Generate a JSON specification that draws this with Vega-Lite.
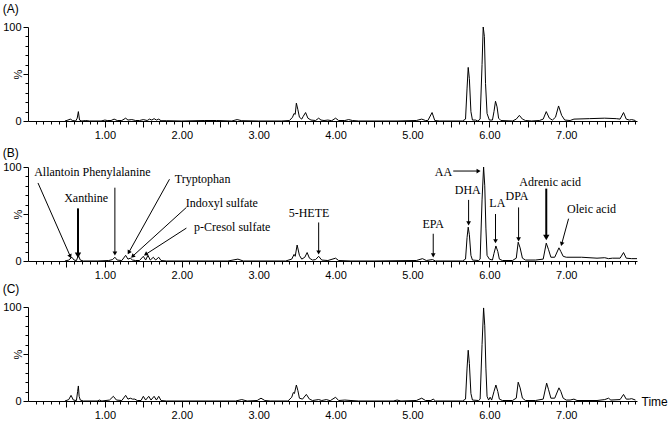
{
  "$schema": "https://vega.github.io/schema/vega-lite/v6.json",
  "background": "white",
  "padding": {"left": 2, "top": 3, "right": 0, "bottom": 2},
  "bounds": "flush",
  "spacing": 46,
  "config": {
    "view": {"stroke": null},
    "axis": {"grid": false, "domainColor": "black", "tickColor": "black", "labelColor": "black", "labelFont": "Liberation Sans", "labelFontSize": 11, "titleFont": "Liberation Sans", "titleFontWeight": "normal", "titleFontSize": 11, "titleColor": "black", "labelPadding": 2, "labelOverlap": false, "labelFlush": false},
    "title": {"anchor": "start", "frame": "bounds", "font": "Liberation Sans", "fontSize": 12, "fontWeight": "normal", "color": "black", "offset": 5},
    "line": {"color": "black", "strokeWidth": 1}
  },
  "datasets": {
    "trace": [
      {"p":"A","t":0.48,"v":0},{"p":"A","t":0.52,"v":1},{"p":"A","t":0.55,"v":2},{"p":"A","t":0.58,"v":0.5},{"p":"A","t":0.62,"v":0},{"p":"A","t":0.64,"v":3},{"p":"A","t":0.655,"v":10},{"p":"A","t":0.67,"v":1},{"p":"A","t":0.7,"v":0},{"p":"A","t":0.75,"v":0.5},{"p":"A","t":0.8,"v":0},{"p":"A","t":0.95,"v":0},{"p":"A","t":1.0,"v":1},{"p":"A","t":1.03,"v":0.5},{"p":"A","t":1.08,"v":0.5},{"p":"A","t":1.12,"v":2},{"p":"A","t":1.16,"v":0.5},{"p":"A","t":1.22,"v":0.5},{"p":"A","t":1.27,"v":3},{"p":"A","t":1.3,"v":1},{"p":"A","t":1.35,"v":1.5},{"p":"A","t":1.4,"v":0.5},{"p":"A","t":1.45,"v":0.5},{"p":"A","t":1.5,"v":1.5},{"p":"A","t":1.55,"v":0.5},{"p":"A","t":1.58,"v":2},{"p":"A","t":1.61,"v":1},{"p":"A","t":1.64,"v":2.5},{"p":"A","t":1.67,"v":1},{"p":"A","t":1.7,"v":2},{"p":"A","t":1.73,"v":0.3},{"p":"A","t":1.8,"v":0.3},{"p":"A","t":2.0,"v":0},{"p":"A","t":2.3,"v":0.5},{"p":"A","t":2.45,"v":0.5},{"p":"A","t":2.65,"v":0},{"p":"A","t":2.72,"v":1.5},{"p":"A","t":2.78,"v":0.3},{"p":"A","t":3.0,"v":0},{"p":"A","t":3.3,"v":0},{"p":"A","t":3.4,"v":0.5},{"p":"A","t":3.44,"v":4},{"p":"A","t":3.46,"v":8},{"p":"A","t":3.475,"v":7},{"p":"A","t":3.49,"v":19},{"p":"A","t":3.51,"v":12},{"p":"A","t":3.53,"v":4},{"p":"A","t":3.56,"v":2},{"p":"A","t":3.58,"v":5},{"p":"A","t":3.61,"v":9},{"p":"A","t":3.64,"v":3},{"p":"A","t":3.68,"v":1},{"p":"A","t":3.74,"v":0.5},{"p":"A","t":3.78,"v":3},{"p":"A","t":3.81,"v":1},{"p":"A","t":3.85,"v":0.5},{"p":"A","t":3.9,"v":1},{"p":"A","t":3.95,"v":0.3},{"p":"A","t":4.0,"v":3},{"p":"A","t":4.04,"v":0.5},{"p":"A","t":4.12,"v":0.5},{"p":"A","t":4.17,"v":1.5},{"p":"A","t":4.22,"v":0.5},{"p":"A","t":4.3,"v":0},{"p":"A","t":4.8,"v":0},{"p":"A","t":5.05,"v":0.5},{"p":"A","t":5.12,"v":2},{"p":"A","t":5.17,"v":0.5},{"p":"A","t":5.2,"v":0.5},{"p":"A","t":5.255,"v":9},{"p":"A","t":5.29,"v":0.5},{"p":"A","t":5.35,"v":0},{"p":"A","t":5.65,"v":0},{"p":"A","t":5.69,"v":2},{"p":"A","t":5.71,"v":35},{"p":"A","t":5.725,"v":57},{"p":"A","t":5.74,"v":45},{"p":"A","t":5.76,"v":10},{"p":"A","t":5.78,"v":1},{"p":"A","t":5.82,"v":1},{"p":"A","t":5.85,"v":0},{"p":"A","t":5.88,"v":2},{"p":"A","t":5.905,"v":60},{"p":"A","t":5.92,"v":100},{"p":"A","t":5.935,"v":90},{"p":"A","t":5.95,"v":40},{"p":"A","t":5.97,"v":8},{"p":"A","t":6.0,"v":1},{"p":"A","t":6.04,"v":1},{"p":"A","t":6.06,"v":10},{"p":"A","t":6.08,"v":21},{"p":"A","t":6.1,"v":15},{"p":"A","t":6.12,"v":3},{"p":"A","t":6.15,"v":0.5},{"p":"A","t":6.3,"v":0},{"p":"A","t":6.35,"v":2},{"p":"A","t":6.39,"v":6},{"p":"A","t":6.43,"v":2},{"p":"A","t":6.47,"v":0.5},{"p":"A","t":6.55,"v":0},{"p":"A","t":6.65,"v":0.5},{"p":"A","t":6.7,"v":2},{"p":"A","t":6.74,"v":10},{"p":"A","t":6.78,"v":3},{"p":"A","t":6.82,"v":1},{"p":"A","t":6.86,"v":4},{"p":"A","t":6.9,"v":16},{"p":"A","t":6.94,"v":6},{"p":"A","t":6.98,"v":1},{"p":"A","t":7.05,"v":0.5},{"p":"A","t":7.1,"v":2},{"p":"A","t":7.3,"v":2.5},{"p":"A","t":7.5,"v":3},{"p":"A","t":7.65,"v":2.5},{"p":"A","t":7.7,"v":2},{"p":"A","t":7.745,"v":9},{"p":"A","t":7.78,"v":2},{"p":"A","t":7.82,"v":1},{"p":"A","t":7.85,"v":1.5},{"p":"A","t":7.9,"v":0.5},
      {"p":"B","t":0.48,"v":0},{"p":"B","t":0.53,"v":1},{"p":"B","t":0.57,"v":4},{"p":"B","t":0.6,"v":1},{"p":"B","t":0.63,"v":0.5},{"p":"B","t":0.655,"v":6},{"p":"B","t":0.68,"v":1},{"p":"B","t":0.72,"v":0},{"p":"B","t":0.9,"v":0},{"p":"B","t":1.05,"v":0.5},{"p":"B","t":1.1,"v":1.5},{"p":"B","t":1.13,"v":4},{"p":"B","t":1.16,"v":1},{"p":"B","t":1.22,"v":0.5},{"p":"B","t":1.27,"v":6},{"p":"B","t":1.3,"v":2},{"p":"B","t":1.33,"v":3},{"p":"B","t":1.36,"v":1},{"p":"B","t":1.4,"v":0.5},{"p":"B","t":1.45,"v":0.5},{"p":"B","t":1.5,"v":5},{"p":"B","t":1.53,"v":1},{"p":"B","t":1.56,"v":6},{"p":"B","t":1.59,"v":1},{"p":"B","t":1.63,"v":4},{"p":"B","t":1.66,"v":1},{"p":"B","t":1.7,"v":4},{"p":"B","t":1.73,"v":0.5},{"p":"B","t":1.8,"v":0},{"p":"B","t":2.6,"v":0},{"p":"B","t":2.73,"v":2},{"p":"B","t":2.8,"v":0},{"p":"B","t":3.35,"v":0},{"p":"B","t":3.43,"v":2},{"p":"B","t":3.46,"v":7},{"p":"B","t":3.475,"v":5},{"p":"B","t":3.5,"v":17},{"p":"B","t":3.53,"v":6},{"p":"B","t":3.56,"v":2},{"p":"B","t":3.6,"v":4},{"p":"B","t":3.63,"v":9},{"p":"B","t":3.66,"v":3},{"p":"B","t":3.7,"v":1},{"p":"B","t":3.74,"v":1.5},{"p":"B","t":3.78,"v":5},{"p":"B","t":3.82,"v":1},{"p":"B","t":3.9,"v":0.5},{"p":"B","t":4.0,"v":3},{"p":"B","t":4.04,"v":0.5},{"p":"B","t":4.2,"v":0},{"p":"B","t":4.5,"v":0},{"p":"B","t":5.05,"v":0.5},{"p":"B","t":5.13,"v":2.5},{"p":"B","t":5.18,"v":0.5},{"p":"B","t":5.26,"v":1.5},{"p":"B","t":5.3,"v":0},{"p":"B","t":5.65,"v":0},{"p":"B","t":5.69,"v":2},{"p":"B","t":5.71,"v":25},{"p":"B","t":5.725,"v":36},{"p":"B","t":5.74,"v":28},{"p":"B","t":5.76,"v":6},{"p":"B","t":5.78,"v":1},{"p":"B","t":5.86,"v":0.5},{"p":"B","t":5.88,"v":2},{"p":"B","t":5.905,"v":65},{"p":"B","t":5.925,"v":100},{"p":"B","t":5.94,"v":80},{"p":"B","t":5.955,"v":35},{"p":"B","t":5.97,"v":6},{"p":"B","t":6.0,"v":2},{"p":"B","t":6.04,"v":1},{"p":"B","t":6.06,"v":8},{"p":"B","t":6.085,"v":16},{"p":"B","t":6.11,"v":10},{"p":"B","t":6.13,"v":2},{"p":"B","t":6.17,"v":0.5},{"p":"B","t":6.3,"v":0.5},{"p":"B","t":6.35,"v":3},{"p":"B","t":6.375,"v":20},{"p":"B","t":6.4,"v":14},{"p":"B","t":6.43,"v":3},{"p":"B","t":6.47,"v":1},{"p":"B","t":6.6,"v":1},{"p":"B","t":6.7,"v":2},{"p":"B","t":6.74,"v":19},{"p":"B","t":6.77,"v":12},{"p":"B","t":6.8,"v":4},{"p":"B","t":6.85,"v":4},{"p":"B","t":6.905,"v":14},{"p":"B","t":6.93,"v":10},{"p":"B","t":6.96,"v":5},{"p":"B","t":7.0,"v":4},{"p":"B","t":7.2,"v":4},{"p":"B","t":7.4,"v":3},{"p":"B","t":7.5,"v":3.5},{"p":"B","t":7.55,"v":2.5},{"p":"B","t":7.6,"v":3},{"p":"B","t":7.7,"v":3},{"p":"B","t":7.745,"v":9},{"p":"B","t":7.78,"v":3},{"p":"B","t":7.85,"v":2.5},{"p":"B","t":7.92,"v":2.5},
      {"p":"C","t":0.48,"v":0},{"p":"C","t":0.53,"v":1.5},{"p":"C","t":0.56,"v":6},{"p":"C","t":0.59,"v":1},{"p":"C","t":0.63,"v":0.5},{"p":"C","t":0.645,"v":10},{"p":"C","t":0.655,"v":16},{"p":"C","t":0.665,"v":5},{"p":"C","t":0.68,"v":1},{"p":"C","t":0.72,"v":0},{"p":"C","t":0.9,"v":0},{"p":"C","t":0.93,"v":1},{"p":"C","t":0.96,"v":0},{"p":"C","t":1.06,"v":1},{"p":"C","t":1.11,"v":5},{"p":"C","t":1.15,"v":1},{"p":"C","t":1.22,"v":0.5},{"p":"C","t":1.27,"v":6},{"p":"C","t":1.3,"v":2},{"p":"C","t":1.33,"v":3},{"p":"C","t":1.36,"v":2},{"p":"C","t":1.39,"v":2},{"p":"C","t":1.42,"v":0.5},{"p":"C","t":1.47,"v":0.5},{"p":"C","t":1.5,"v":5},{"p":"C","t":1.53,"v":1},{"p":"C","t":1.57,"v":5},{"p":"C","t":1.6,"v":1},{"p":"C","t":1.64,"v":5},{"p":"C","t":1.67,"v":1},{"p":"C","t":1.7,"v":5},{"p":"C","t":1.73,"v":0.5},{"p":"C","t":1.8,"v":0},{"p":"C","t":2.7,"v":0},{"p":"C","t":2.78,"v":1.5},{"p":"C","t":2.85,"v":0},{"p":"C","t":2.98,"v":0.5},{"p":"C","t":3.03,"v":3},{"p":"C","t":3.08,"v":0.5},{"p":"C","t":3.15,"v":0},{"p":"C","t":3.38,"v":0},{"p":"C","t":3.43,"v":4},{"p":"C","t":3.45,"v":9},{"p":"C","t":3.465,"v":8},{"p":"C","t":3.49,"v":17},{"p":"C","t":3.51,"v":11},{"p":"C","t":3.53,"v":3},{"p":"C","t":3.57,"v":2},{"p":"C","t":3.62,"v":7},{"p":"C","t":3.66,"v":2},{"p":"C","t":3.7,"v":0.5},{"p":"C","t":3.78,"v":1.5},{"p":"C","t":3.82,"v":0.5},{"p":"C","t":3.88,"v":1.5},{"p":"C","t":3.93,"v":0.3},{"p":"C","t":4.0,"v":4},{"p":"C","t":4.04,"v":0.5},{"p":"C","t":4.12,"v":1},{"p":"C","t":4.2,"v":0.5},{"p":"C","t":4.3,"v":0},{"p":"C","t":4.75,"v":0},{"p":"C","t":4.8,"v":1},{"p":"C","t":4.85,"v":0},{"p":"C","t":5.05,"v":0.5},{"p":"C","t":5.12,"v":3},{"p":"C","t":5.17,"v":0.5},{"p":"C","t":5.24,"v":0.5},{"p":"C","t":5.27,"v":2},{"p":"C","t":5.3,"v":0},{"p":"C","t":5.65,"v":0},{"p":"C","t":5.69,"v":2},{"p":"C","t":5.71,"v":35},{"p":"C","t":5.725,"v":54},{"p":"C","t":5.74,"v":40},{"p":"C","t":5.76,"v":8},{"p":"C","t":5.78,"v":1},{"p":"C","t":5.86,"v":0.5},{"p":"C","t":5.88,"v":2},{"p":"C","t":5.905,"v":60},{"p":"C","t":5.925,"v":99},{"p":"C","t":5.94,"v":80},{"p":"C","t":5.955,"v":35},{"p":"C","t":5.97,"v":5},{"p":"C","t":5.99,"v":1},{"p":"C","t":6.01,"v":4},{"p":"C","t":6.03,"v":1},{"p":"C","t":6.06,"v":10},{"p":"C","t":6.085,"v":17},{"p":"C","t":6.11,"v":10},{"p":"C","t":6.13,"v":2},{"p":"C","t":6.17,"v":0.5},{"p":"C","t":6.3,"v":0.5},{"p":"C","t":6.35,"v":3},{"p":"C","t":6.375,"v":20},{"p":"C","t":6.4,"v":14},{"p":"C","t":6.43,"v":3},{"p":"C","t":6.47,"v":0.5},{"p":"C","t":6.6,"v":0.5},{"p":"C","t":6.7,"v":2},{"p":"C","t":6.745,"v":19},{"p":"C","t":6.77,"v":12},{"p":"C","t":6.8,"v":3},{"p":"C","t":6.85,"v":3},{"p":"C","t":6.905,"v":14},{"p":"C","t":6.93,"v":10},{"p":"C","t":6.96,"v":3},{"p":"C","t":7.0,"v":1},{"p":"C","t":7.05,"v":1},{"p":"C","t":7.1,"v":2},{"p":"C","t":7.14,"v":0.5},{"p":"C","t":7.4,"v":0.5},{"p":"C","t":7.5,"v":1.5},{"p":"C","t":7.55,"v":3},{"p":"C","t":7.58,"v":1},{"p":"C","t":7.7,"v":1.5},{"p":"C","t":7.745,"v":7},{"p":"C","t":7.78,"v":2},{"p":"C","t":7.82,"v":2},{"p":"C","t":7.85,"v":2.5},{"p":"C","t":7.9,"v":1}
    ],
    "ann": [
      {"name":"Allantoin","tx":0.08,"ty":94.7,"x1":0.13,"y1":83,"x2":0.55,"y2":5,"bold":false},
      {"name":"Phenylalanine","tx":0.71,"ty":94.7,"x1":1.13,"y1":78,"x2":1.13,"y2":8,"bold":false},
      {"name":"Xanthine","tx":0.47,"ty":67,"x1":0.65,"y1":56,"x2":0.65,"y2":6,"bold":true},
      {"name":"Tryptophan","tx":1.91,"ty":87,"x1":1.84,"y1":87,"x2":1.31,"y2":9,"bold":false},
      {"name":"Indoxyl sulfate","tx":2.05,"ty":62,"x1":2.06,"y1":57,"x2":1.36,"y2":5,"bold":false},
      {"name":"p-Cresol sulfate","tx":2.16,"ty":36,"x1":2.06,"y1":35,"x2":1.53,"y2":7,"bold":false},
      {"name":"5-HETE","tx":3.39,"ty":51,"x1":3.78,"y1":41,"x2":3.78,"y2":9,"bold":false},
      {"name":"EPA","tx":5.13,"ty":39,"x1":5.27,"y1":29,"x2":5.27,"y2":6,"bold":false},
      {"name":"AA","tx":5.29,"ty":94.7,"x1":5.53,"y1":95.7,"x2":5.86,"y2":95.7,"bold":false},
      {"name":"DHA","tx":5.55,"ty":75.5,"x1":5.73,"y1":65,"x2":5.73,"y2":40,"bold":false},
      {"name":"LA","tx":6.0,"ty":62,"x1":6.08,"y1":50,"x2":6.08,"y2":21,"bold":false},
      {"name":"DPA","tx":6.21,"ty":69,"x1":6.38,"y1":57,"x2":6.38,"y2":23,"bold":false},
      {"name":"Adrenic acid","tx":6.39,"ty":84,"x1":6.74,"y1":77,"x2":6.74,"y2":25,"bold":true},
      {"name":"Oleic acid","tx":7.01,"ty":55,"x1":7.03,"y1":45,"x2":6.94,"y2":18,"bold":false}
    ]
  },
  "vconcat": [
    {
      "title": "(A)",
      "width": 609, "height": 94,
      "data": {"name": "trace"},
      "transform": [{"filter": "datum.p === 'A'"}],
      "mark": {"type": "line", "color": "black", "strokeWidth": 1},
      "encoding": {
        "x": {"field": "t", "type": "quantitative", "scale": {"domain": [0, 7.92], "nice": false, "zero": false},
          "axis": {"title": null, "values": [0.1,0.2,0.3,0.4,0.5,0.6,0.7,0.8,0.9,1,1.1,1.2,1.3,1.4,1.5,1.6,1.7,1.8,1.9,2,2.1,2.2,2.3,2.4,2.5,2.6,2.7,2.8,2.9,3,3.1,3.2,3.3,3.4,3.5,3.6,3.7,3.8,3.9,4,4.1,4.2,4.3,4.4,4.5,4.6,4.7,4.8,4.9,5,5.1,5.2,5.3,5.4,5.5,5.6,5.7,5.8,5.9,6,6.1,6.2,6.3,6.4,6.5,6.6,6.7,6.8,6.9,7,7.1,7.2,7.3,7.4,7.5,7.6,7.7,7.8,7.9],
            "labelExpr": "abs(datum.value - round(datum.value)) < 0.001 ? format(datum.value, '.2f') : ''",
            "tickSize": {"condition": {"test": "abs(datum.value*2 - round(datum.value*2)) < 0.001", "value": 6}, "value": 3}}},
        "y": {"field": "v", "type": "quantitative", "scale": {"domain": [0, 100], "nice": false},
          "axis": {"title": "%", "values": [0,10,20,30,40,50,60,70,80,90,100], "labelExpr": "datum.value == 0 || datum.value == 100 ? datum.label : ''",
            "tickSize": {"condition": {"test": "datum.value % 50 == 0", "value": 5}, "value": 3},
            "titleX": -10, "titleY": 47, "titleAngle": -90, "titleAlign": "center", "titleBaseline": "middle"}}
      }
    },
    {
      "title": {"text": "(B)", "offset": 1},
      "width": 609, "height": 94,
      "resolve": {"axis": {"x": "independent", "y": "independent"}},
      "layer": [
        {
          "data": {"name": "trace"},
          "transform": [{"filter": "datum.p === 'B'"}],
          "mark": {"type": "line", "color": "black", "strokeWidth": 1},
          "encoding": {
            "x": {"field": "t", "type": "quantitative", "scale": {"domain": [0, 7.92], "nice": false, "zero": false},
              "axis": {"title": null, "values": [0.1,0.2,0.3,0.4,0.5,0.6,0.7,0.8,0.9,1,1.1,1.2,1.3,1.4,1.5,1.6,1.7,1.8,1.9,2,2.1,2.2,2.3,2.4,2.5,2.6,2.7,2.8,2.9,3,3.1,3.2,3.3,3.4,3.5,3.6,3.7,3.8,3.9,4,4.1,4.2,4.3,4.4,4.5,4.6,4.7,4.8,4.9,5,5.1,5.2,5.3,5.4,5.5,5.6,5.7,5.8,5.9,6,6.1,6.2,6.3,6.4,6.5,6.6,6.7,6.8,6.9,7,7.1,7.2,7.3,7.4,7.5,7.6,7.7,7.8,7.9],
                "labelExpr": "abs(datum.value - round(datum.value)) < 0.001 ? format(datum.value, '.2f') : ''",
                "tickSize": {"condition": {"test": "abs(datum.value*2 - round(datum.value*2)) < 0.001", "value": 6}, "value": 3}}},
            "y": {"field": "v", "type": "quantitative", "scale": {"domain": [0, 100], "nice": false},
              "axis": {"title": "%", "values": [0,10,20,30,40,50,60,70,80,90,100], "labelExpr": "datum.value == 0 || datum.value == 100 ? datum.label : ''",
                "tickSize": {"condition": {"test": "datum.value % 50 == 0", "value": 5}, "value": 3},
                "titleX": -10, "titleY": 47, "titleAngle": -90, "titleAlign": "center", "titleBaseline": "middle"}}
          }
        },
        {
          "data": {"name": "ann"},
          "transform": [{"filter": "!datum.bold"}],
          "mark": {"type": "rule", "color": "black", "strokeWidth": 1},
          "encoding": {
            "x": {"field": "x1", "type": "quantitative", "axis": null}, "y": {"field": "y1", "type": "quantitative", "axis": null},
            "x2": {"field": "x2"}, "y2": {"field": "y2"}
          }
        },
        {
          "data": {"name": "ann"},
          "transform": [{"filter": "datum.bold"}],
          "mark": {"type": "rule", "color": "black", "strokeWidth": 2},
          "encoding": {
            "x": {"field": "x1", "type": "quantitative", "axis": null}, "y": {"field": "y1", "type": "quantitative", "axis": null},
            "x2": {"field": "x2"}, "y2": {"field": "y2"}
          }
        },
        {
          "data": {"name": "ann"},
          "transform": [{"filter": "!datum.bold"}, {"calculate": "atan2((datum.x2 - datum.x1) * 77, (datum.y2 - datum.y1) * 0.94) * 180 / PI", "as": "ang"}],
          "mark": {"type": "point", "shape": "triangle-up", "filled": true, "color": "black", "opacity": 1, "size": 22},
          "encoding": {
            "x": {"field": "x2", "type": "quantitative", "axis": null}, "y": {"field": "y2", "type": "quantitative", "axis": null},
            "angle": {"field": "ang", "type": "quantitative", "scale": null}
          }
        },
        {
          "data": {"name": "ann"},
          "transform": [{"filter": "datum.bold"}, {"calculate": "atan2((datum.x2 - datum.x1) * 77, (datum.y2 - datum.y1) * 0.94) * 180 / PI", "as": "ang"}],
          "mark": {"type": "point", "shape": "triangle-up", "filled": true, "color": "black", "opacity": 1, "size": 40},
          "encoding": {
            "x": {"field": "x2", "type": "quantitative", "axis": null}, "y": {"field": "y2", "type": "quantitative", "axis": null},
            "angle": {"field": "ang", "type": "quantitative", "scale": null}
          }
        },
        {
          "data": {"name": "ann"},
          "mark": {"type": "text", "align": "left", "baseline": "middle", "font": "Liberation Serif", "fontSize": 12, "color": "black"},
          "encoding": {
            "x": {"field": "tx", "type": "quantitative", "axis": null}, "y": {"field": "ty", "type": "quantitative", "axis": null},
            "text": {"field": "name"}
          }
        }
      ]
    },
    {
      "title": "(C)",
      "width": 609, "height": 94,
      "data": {"name": "trace"},
      "transform": [{"filter": "datum.p === 'C'"}],
      "mark": {"type": "line", "color": "black", "strokeWidth": 1},
      "encoding": {
        "x": {"field": "t", "type": "quantitative", "scale": {"domain": [0, 7.92], "nice": false, "zero": false},
          "axis": {"title": "Time", "titleFontSize": 12, "titleX": 613, "titleY": 0, "titleAlign": "left", "titleBaseline": "middle", "titleAnchor": "start", "values": [0.1,0.2,0.3,0.4,0.5,0.6,0.7,0.8,0.9,1,1.1,1.2,1.3,1.4,1.5,1.6,1.7,1.8,1.9,2,2.1,2.2,2.3,2.4,2.5,2.6,2.7,2.8,2.9,3,3.1,3.2,3.3,3.4,3.5,3.6,3.7,3.8,3.9,4,4.1,4.2,4.3,4.4,4.5,4.6,4.7,4.8,4.9,5,5.1,5.2,5.3,5.4,5.5,5.6,5.7,5.8,5.9,6,6.1,6.2,6.3,6.4,6.5,6.6,6.7,6.8,6.9,7,7.1,7.2,7.3,7.4,7.5,7.6,7.7,7.8,7.9],
            "labelExpr": "abs(datum.value - round(datum.value)) < 0.001 ? format(datum.value, '.2f') : ''",
            "tickSize": {"condition": {"test": "abs(datum.value*2 - round(datum.value*2)) < 0.001", "value": 6}, "value": 3}}},
        "y": {"field": "v", "type": "quantitative", "scale": {"domain": [0, 100], "nice": false},
          "axis": {"title": "%", "values": [0,10,20,30,40,50,60,70,80,90,100], "labelExpr": "datum.value == 0 || datum.value == 100 ? datum.label : ''",
            "tickSize": {"condition": {"test": "datum.value % 50 == 0", "value": 5}, "value": 3},
            "titleX": -10, "titleY": 47, "titleAngle": -90, "titleAlign": "center", "titleBaseline": "middle"}}
      }
    }
  ]
}
